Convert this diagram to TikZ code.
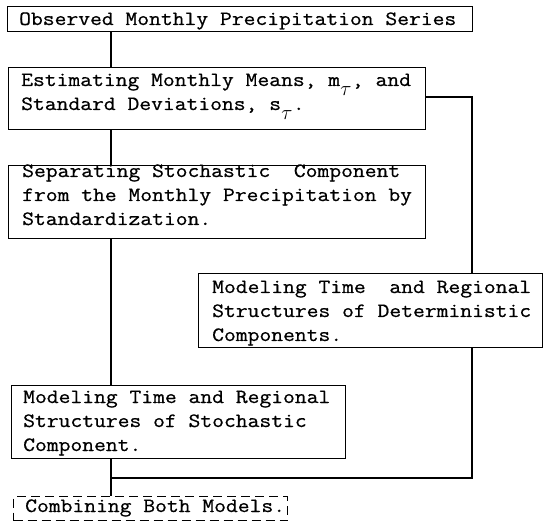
\documentclass[tikz,border=0pt]{standalone}
\usepackage{fontspec}
\newfontfamily\tw[FakeStretch=1.13,FakeBold=0.7]{Latin Modern Mono}
\newcommand{\subtau}{\makebox[11.8pt][c]{\raisebox{-10pt}{$\tau$}}}
\begin{document}
\begin{tikzpicture}[x=1pt,y=-1pt,
  box/.style={draw, line width=1.3pt, inner sep=0pt, anchor=north west},
  txt/.style={anchor=base west, inner sep=0pt, font=\tw\fontsize{20.3pt}{24pt}\selectfont},
  conn/.style={line width=1.3pt}]
\useasboundingbox (0,0) rectangle (546,526);
\fill[white] (0,0) rectangle (546,526);
% boxes
\node[box, minimum width=465pt, minimum height=25pt] (b1) at (7,6) {};
\node[box, minimum width=417pt, minimum height=62pt] (b2) at (8,67) {};
\node[box, minimum width=417pt, minimum height=73pt] (b3) at (8,165) {};
\node[box, minimum width=344pt, minimum height=74pt] (b4) at (198,273) {};
\node[box, minimum width=334pt, minimum height=73pt] (b5) at (11,385) {};
\node[box, dash pattern=on 9pt off 5pt, minimum width=274pt, minimum height=24pt] (b6) at (13,496) {};
% texts
\node[txt] (t1) at (19,25) {Observed Monthly Precipitation Series};
\node[txt] (t2a) at (21,86) {Estimating Monthly Means, m\subtau, and};
\node[txt] (t2b) at (21,110) {Standard Deviations, s\subtau.};
\node[txt] (t3a) at (22,177) {Separating Stochastic\ \ Component};
\node[txt] (t3b) at (22,201) {from the Monthly Precipitation by};
\node[txt] (t3c) at (22,225) {Standardization.};
\node[txt] (t4a) at (212,293) {Modeling Time\ \ and Regional};
\node[txt] (t4b) at (212,317) {Structures of Deterministic};
\node[txt] (t4c) at (212,341) {Components.};
\node[txt] (t5a) at (23,403) {Modeling Time and Regional};
\node[txt] (t5b) at (23,427) {Structures of Stochastic};
\node[txt] (t5c) at (23,451) {Component.};
\node[txt] (t6) at (25,512) {Combining Both Models.};
% connectors
\coordinate (sx) at (111,0);
\coordinate (rx) at (472,0);
\coordinate (hy) at (0,97);
\coordinate (j) at (111,478);
\draw[conn] (b1.south -| sx) -- (b2.north -| sx);
\draw[conn] (b2.south -| sx) -- (b3.north -| sx);
\draw[conn] (b3.south -| sx) -- (b5.north -| sx);
\draw[conn] (b5.south -| sx) -- (b6.north -| sx);
\draw[conn] (b2.east |- hy) -| (b4.north -| rx);
\draw[conn] (b4.south -| rx) -- (rx |- j) -- (j);
\end{tikzpicture}
\end{document}
